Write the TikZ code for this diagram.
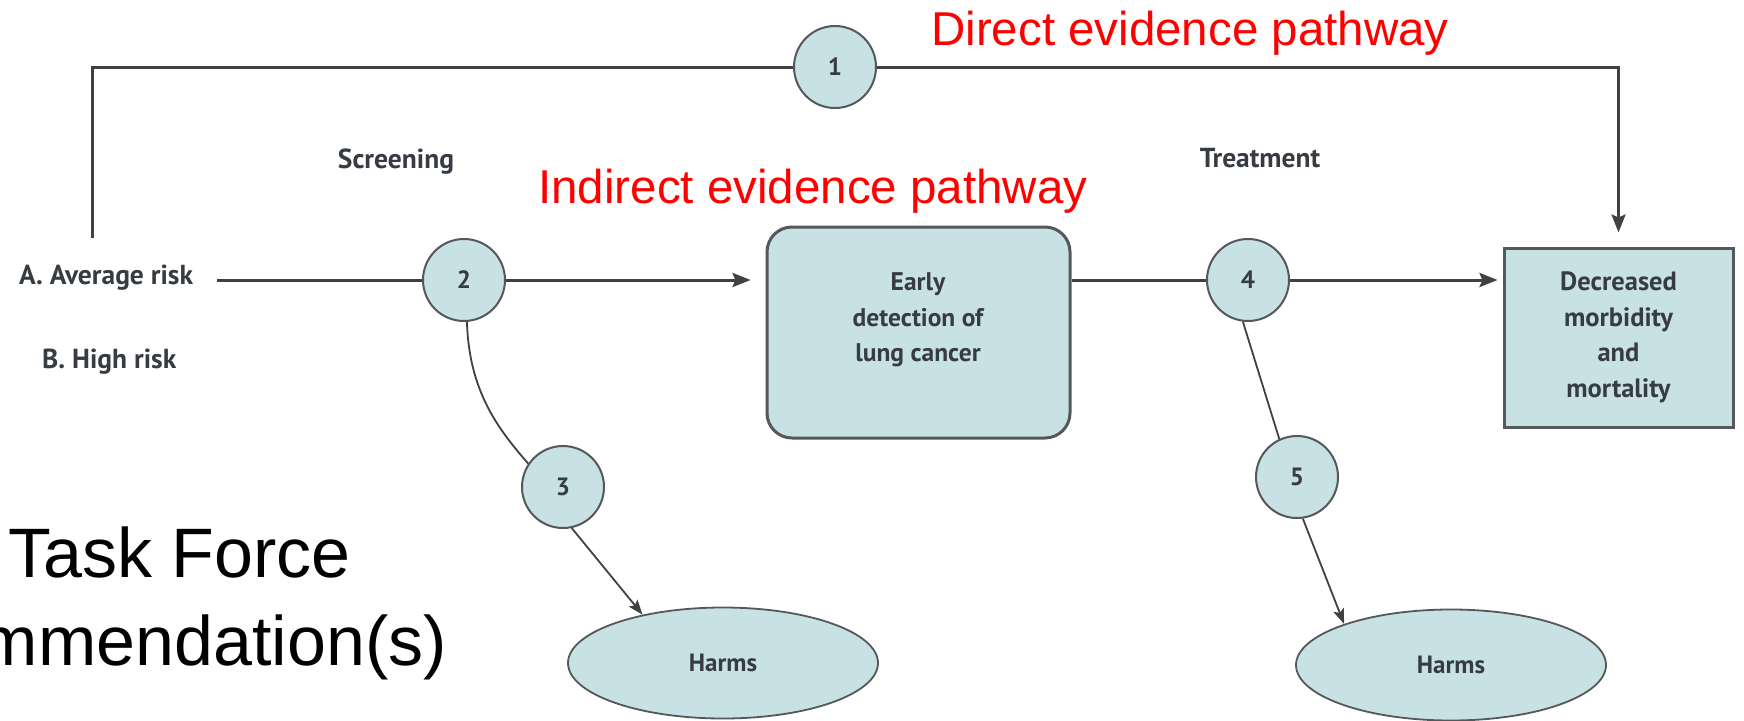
\documentclass[tikz,border=0pt]{standalone}
\usepackage{fontspec}
\setmainfont{Liberation Sans}
\newfontfamily\diagfont{PT Sans}
\usetikzlibrary{arrows.meta,shapes.geometric}
\definecolor{fillb}{RGB}{200,225,229}
\definecolor{edgeg}{RGB}{85,88,90}
\definecolor{lineg}{RGB}{65,65,65}
\definecolor{txtg}{RGB}{55,60,66}
\definecolor{redt}{RGB}{255,0,0}
\begin{document}
\begin{tikzpicture}[x=1pt,y=-1pt,
  num/.style={circle,draw=edgeg,line width=2pt,fill=fillb,minimum size=82pt,inner sep=0pt,
    font=\diagfont\bfseries\fontsize{25}{28}\selectfont,text=txtg},
  lbl/.style={inner sep=0pt,font=\diagfont\bfseries\fontsize{27.5}{30}\selectfont,text=txtg},
  boxtxt/.style={inner sep=0pt,align=center,font=\diagfont\bfseries\fontsize{25.5}{35.5}\selectfont,text=txtg},
  ebox/.style={rectangle,rounded corners=25pt,draw=edgeg,line width=3pt,fill=fillb,
    minimum width=303pt,minimum height=211pt,inner sep=0pt},
  decbox/.style={rectangle,draw=edgeg,line width=3pt,fill=fillb,minimum width=229pt,
    minimum height=179pt,inner sep=0pt,align=center,
    font=\diagfont\bfseries\fontsize{26.5}{35.5}\selectfont,text=txtg},
  harm/.style={ellipse,draw=edgeg,line width=1.8pt,fill=fillb,minimum width=310pt,
    minimum height=111pt,inner sep=0pt,font=\diagfont\bfseries\fontsize{25}{28}\selectfont,text=txtg},
  redlbl/.style={inner sep=0pt,text=redt,font=\fontsize{47.5}{57}\selectfont},
  bigtxt/.style={inner sep=0pt,text=black,font=\fontsize{70}{84}\selectfont},
  conn/.style={draw=lineg,line width=3pt},
  thinl/.style={draw=lineg,line width=1.8pt},
  arr/.style={-{Stealth[length=18pt,width=14pt,inset=3pt]}},
  sarr/.style={-{Stealth[length=15pt,width=11pt,inset=3pt]}}
]
\useasboundingbox (0,0) rectangle (1744,720);
\fill[white] (0,0) rectangle (1744,720);

% boxes
\node[ebox] (early) at (918.5,332.5) {};
\node[boxtxt] (earlyt) at (918,320) {Early\\detection of\\lung cancer};
\node[decbox] (dec) at (1618.5,337.5) {Decreased\\morbidity\\and\\mortality};
\node[harm] (h1) at (723,663) {Harms};
\node[harm] (h2) at (1451,665) {Harms};

% numbered circles
\node[num] (c1) at (835,67) {1};
\node[num] (c2) at (464,280) {2};
\node[num] (c3) at (563,487) {3};
\node[num] (c4) at (1248,280) {4};
\node[num] (c5) at (1297,477) {5};

% labels
\node[lbl,anchor=base] (scr) at (396,168) {Screening};
\node[lbl,anchor=base] (trt) at (1260,167) {Treatment};
\node[lbl,anchor=base west] (avg) at (19,284) {A. Average risk};
\node[lbl,anchor=base west] (high) at (42,368) {B. High risk};

\node[redlbl,anchor=base west] (dir) at (931,45) {Direct evidence pathway};
\node[redlbl,anchor=base west] (ind) at (538,203) {Indirect evidence pathway};

\node[bigtxt,anchor=base west] (tf) at (8,577) {Task Force};
\node[bigtxt,anchor=base east] (rec) at (447,665) {mmendation(s)};

% free ends
\coordinate (s1) at (92,238);
\coordinate (s2) at (217,280);

% connectors
\draw[conn] (s1) |- (c1);
\draw[conn,arr,shorten >=14pt] (c1) -| (dec.north);
\draw[conn] (s2) -- (c2);
\draw[conn,arr,shorten >=15pt] (c2) -- (c2 -| early.west);
\draw[conn] (early.east |- c4) -- (c4);
\draw[conn,arr,shorten >=5pt] (c4) -- (c4 -| dec.west);
\draw[thinl] (c2.-86) .. controls (469,390) and (497,428) .. (c3.146);
\draw[thinl,sarr] (c3.-78) -- (h1.149);
\draw[thinl] (c4.-97) -- (c5.115);
\draw[thinl,sarr] (c5.-82) -- (h2.159);
\end{tikzpicture}
\end{document}
